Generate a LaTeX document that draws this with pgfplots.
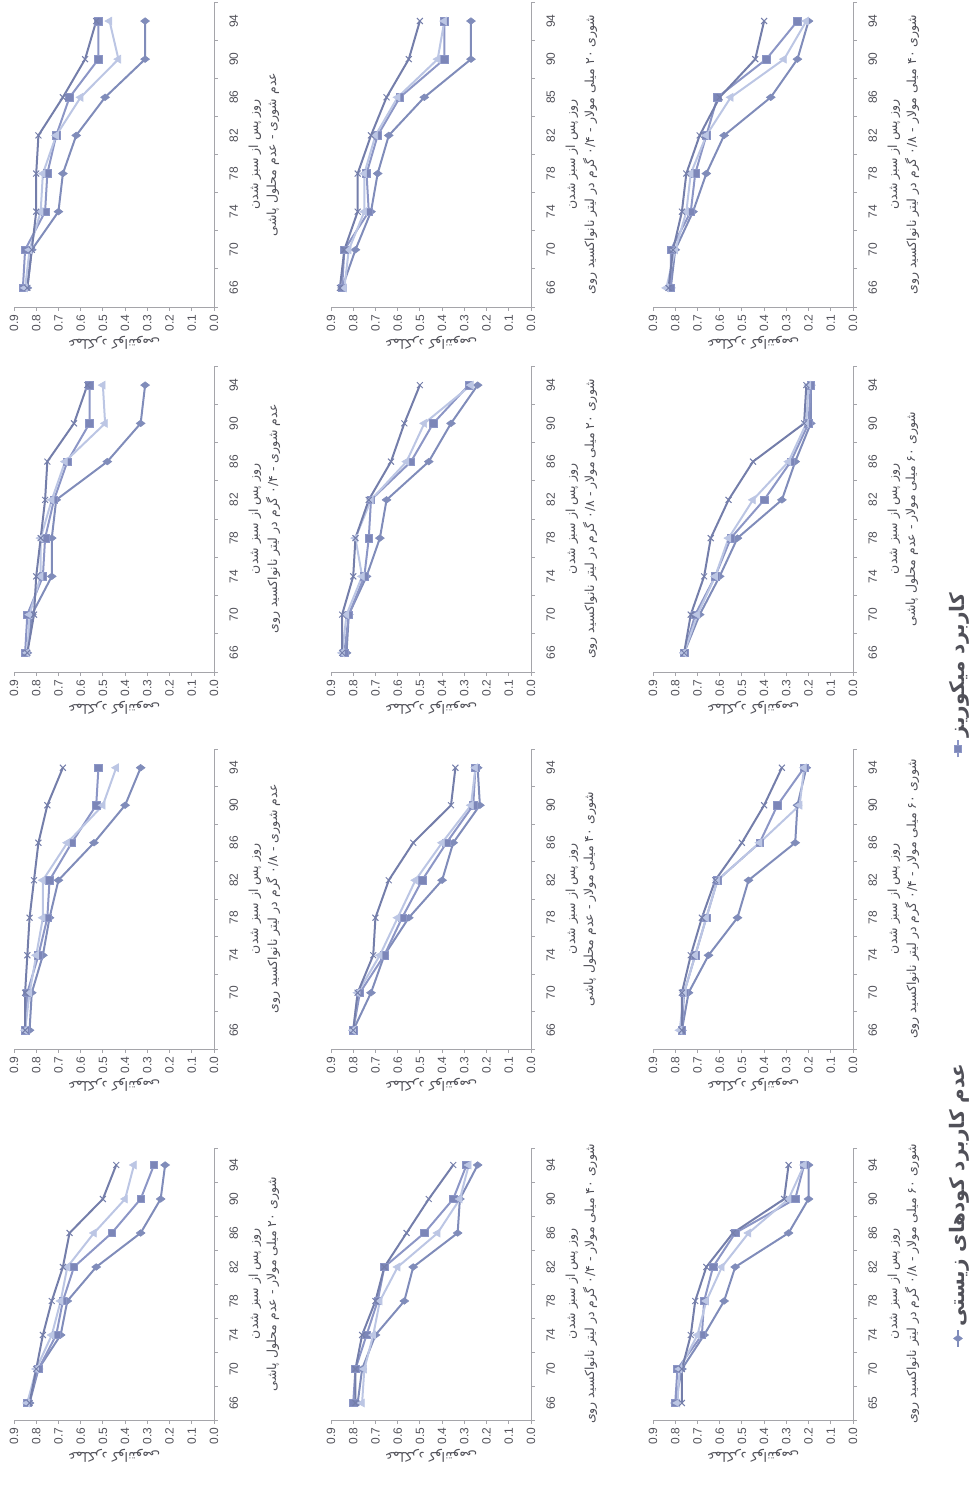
\documentclass[border=0pt]{standalone}
\usepackage{graphicx}
\usepackage{fontspec}
\usepackage{pgfplots}
\usepackage{pgfplotstable}
\pgfplotsset{compat=1.18}
\setmainfont{Liberation Sans}
\newfontfamily\arabicfont[Script=Arabic]{DejaVu Sans}
\TeXXeTstate=1
\newcommand{\fa}[1]{{\arabicfont\beginR #1\endR}}

\definecolor{cD}{RGB}{128,140,186}
\definecolor{cS}{RGB}{140,150,198}
\definecolor{cSf}{RGB}{124,134,184}
\definecolor{cT}{RGB}{188,198,228}
\definecolor{cX}{RGB}{116,126,170}
\definecolor{axgray}{RGB}{165,165,170}
\definecolor{tickgray}{RGB}{80,80,88}

\tikzset{
 sD/.style={color=cD, line width=2pt, mark=diamond*, mark size=4.4pt, mark options={fill=cD, line width=0.6pt}},
 sS/.style={color=cS, line width=2pt, mark=square*, mark size=3.8pt, mark options={fill=cSf, draw=cS, line width=0.6pt}},
 sT/.style={color=cT, line width=2pt, mark=triangle*, mark size=4.6pt, mark options={fill=cT, line width=0.6pt}},
 sX/.style={color=cX, line width=2pt, mark=x, mark size=4.2pt, mark options={line width=1pt}},
 lbl/.style={font=\fontsize{12.5}{14}\selectfont, text=tickgray},
 ttl/.style={font=\fontsize{12.5}{14}\selectfont, text=tickgray},
}

\pgfplotsset{panelstyle/.style={
 anchor=south west, scale only axis, height=200pt,
 xmin=-0.5, xmax=7.5, ymin=0, ymax=0.9,
 axis lines*=left, clip=false,
 xtick={-0.5,0.5,1.5,2.5,3.5,4.5,5.5,6.5,7.5}, xticklabels={,,,,,,,,},
 extra x ticks={0,1,2,3,4,5,6,7},
 extra x tick style={major tick length=0pt},
 xticklabel style={yshift=-12pt},
 ytick={0,0.1,0.2,0.3,0.4,0.5,0.6,0.7,0.8,0.9},
 tick align=outside, major tick length=4pt,
 axis line style={draw=axgray, line width=0.8pt},
 tick style={draw=axgray, line width=0.8pt},
 yticklabel style={/pgf/number format/.cd, fixed, fixed zerofill, precision=1},
 /pgf/number format/assume math mode=true,
 ticklabel style={font=\fontsize{12}{14}\selectfont, text=tickgray},
 ylabel={\fa{عملکرد کوانتومی}},
 ylabel style={font=\fontsize{13}{15}\selectfont, text=tickgray, yshift=-2pt},
}}

% #1 left, #2 bottom, #3 table, #4 title, #5 tick labels, #6 width, #7 extra options
\newcommand{\panel}[7]{%
\begin{axis}[panelstyle, at={(#1pt,#2pt)}, width=#6pt, extra x tick labels={#5}, #7]
\addplot[sD] table[x=i,y=D]{#3};
\addplot[sS] table[x=i,y=S]{#3};
\addplot[sT] table[x=i,y=T]{#3};
\addplot[sX] table[x=i,y=X]{#3};
\node[lbl] at (rel axis cs:0.5,0) [yshift=-41pt] {\fa{روز پس از سبز شدن}};
\node[ttl] at (rel axis cs:0.5,0) [yshift=-59pt] {#4};
\end{axis}}

% columns: i = day index (66,70,...,94); D = no biofertilizer (diamond), S = mycorrhiza (square), T = triangle series, X = cross series
\pgfplotstableread{
i D S T X
0 0.84 0.86 0.85 0.84
1 0.82 0.85 0.83 0.82
2 0.70 0.76 0.78 0.80
3 0.68 0.75 0.77 0.80
4 0.62 0.71 0.71 0.79
5 0.49 0.65 0.60 0.68
6 0.31 0.52 0.43 0.58
7 0.31 0.52 0.47 0.53
}\tA
\pgfplotstableread{
i D S T X
0 0.84 0.85 0.84 0.84
1 0.82 0.84 0.83 0.81
2 0.73 0.77 0.78 0.80
3 0.73 0.76 0.78 0.78
4 0.71 0.72 0.73 0.76
5 0.48 0.66 0.67 0.75
6 0.33 0.56 0.49 0.63
7 0.31 0.56 0.50 0.57
}\tB
\pgfplotstableread{
i D S T X
0 0.83 0.85 0.85 0.85
1 0.82 0.84 0.83 0.85
2 0.77 0.79 0.80 0.84
3 0.74 0.75 0.77 0.83
4 0.70 0.74 0.77 0.81
5 0.54 0.64 0.66 0.79
6 0.40 0.53 0.50 0.75
7 0.33 0.52 0.44 0.68
}\tC
\pgfplotstableread{
i D S T X
0 0.83 0.84 0.84 0.83
1 0.79 0.79 0.80 0.80
2 0.69 0.71 0.73 0.77
3 0.66 0.68 0.69 0.73
4 0.53 0.63 0.66 0.68
5 0.33 0.46 0.54 0.65
6 0.24 0.33 0.40 0.50
7 0.22 0.27 0.36 0.44
}\tD
\pgfplotstableread{
i D S T X
0 0.85 0.85 0.84 0.86
1 0.79 0.84 0.82 0.84
2 0.72 0.73 0.75 0.78
3 0.69 0.74 0.75 0.78
4 0.64 0.69 0.70 0.72
5 0.48 0.59 0.60 0.65
6 0.27 0.39 0.42 0.55
7 0.27 0.39 0.39 0.50
}\tE
\pgfplotstableread{
i D S T X
0 0.83 0.84 0.85 0.85
1 0.82 0.82 0.83 0.85
2 0.74 0.75 0.76 0.80
3 0.68 0.73 0.79 0.79
4 0.65 0.72 0.72 0.73
5 0.46 0.54 0.56 0.63
6 0.36 0.44 0.48 0.57
7 0.24 0.28 0.27 0.50
}\tF
\pgfplotstableread{
i D S T X
0 0.80 0.80 0.80 0.80
1 0.72 0.77 0.78 0.78
2 0.66 0.66 0.68 0.71
3 0.55 0.58 0.60 0.70
4 0.40 0.49 0.52 0.64
5 0.35 0.38 0.40 0.53
6 0.23 0.26 0.27 0.36
7 0.24 0.25 0.25 0.34
}\tG
\pgfplotstableread{
i D S T X
0 0.78 0.80 0.76 0.79
1 0.76 0.79 0.75 0.79
2 0.70 0.74 0.71 0.76
3 0.57 0.69 0.68 0.70
4 0.53 0.66 0.60 0.66
5 0.33 0.48 0.42 0.56
6 0.32 0.35 0.32 0.46
7 0.24 0.29 0.28 0.35
}\tH
\pgfplotstableread{
i D S T X
0 0.82 0.82 0.84 0.83
1 0.80 0.82 0.80 0.81
2 0.72 0.73 0.75 0.77
3 0.66 0.71 0.73 0.75
4 0.58 0.66 0.66 0.69
5 0.37 0.61 0.55 0.60
6 0.25 0.39 0.31 0.44
7 0.20 0.25 0.21 0.40
}\tI
\pgfplotstableread{
i D S T X
0 0.76 0.76 0.76 0.76
1 0.69 0.71 0.70 0.73
2 0.60 0.62 0.62 0.67
3 0.52 0.55 0.56 0.64
4 0.32 0.40 0.45 0.56
5 0.26 0.28 0.29 0.45
6 0.19 0.20 0.21 0.22
7 0.19 0.19 0.20 0.21
}\tJ
\pgfplotstableread{
i D S T X
0 0.77 0.77 0.78 0.77
1 0.74 0.76 0.76 0.77
2 0.65 0.71 0.71 0.73
3 0.52 0.66 0.66 0.68
4 0.47 0.61 0.61 0.62
5 0.26 0.42 0.42 0.50
6 0.25 0.34 0.24 0.40
7 0.21 0.22 0.22 0.32
}\tK
\pgfplotstableread{
i D S T X
0 0.80 0.80 0.79 0.77
1 0.77 0.79 0.78 0.77
2 0.67 0.68 0.70 0.73
3 0.58 0.67 0.66 0.71
4 0.53 0.63 0.59 0.66
5 0.29 0.53 0.47 0.54
6 0.20 0.26 0.29 0.31
7 0.20 0.22 0.22 0.29
}\tL

\begin{document}
\rotatebox{90}{%
\begin{tikzpicture}
\useasboundingbox (0pt,0pt) rectangle (1491pt,972pt);
% row 1
\panel{1184}{758}{\tA}{\fa{عدم شوری - عدم محلول پاشی}}{66,70,74,78,82,86,90,94}{305}{}
\panel{819}{758}{\tB}{\fa{عدم شوری - ۰/۴ گرم در لیتر نانواکسید روی}}{66,70,74,78,82,86,90,94}{306}{}
\panel{442}{758}{\tC}{\fa{عدم شوری - ۰/۸ گرم در لیتر نانواکسید روی}}{66,70,74,78,82,86,90,94}{300}{}
\panel{71}{758}{\tD}{\fa{شوری ۲۰ میلی مولار - عدم محلول پاشی}}{66,70,74,78,82,86,90,94}{272}{}
% row 2
\panel{1184}{441}{\tE}{\fa{شوری ۲۰ میلی مولار - ۰/۴ گرم در لیتر نانواکسید روی}}{66,70,74,78,82,85,90,94}{305}{}
\panel{819}{441}{\tF}{\fa{شوری ۲۰ میلی مولار - ۰/۸ گرم در لیتر نانواکسید روی}}{66,70,74,78,82,86,90,94}{306}{}
\panel{442}{441}{\tG}{\fa{شوری ۴۰ میلی مولار - عدم محلول پاشی}}{66,70,74,78,82,86,90,94}{300}{}
\panel{71}{441}{\tH}{\fa{شوری ۴۰ میلی مولار - ۰/۴ گرم در لیتر نانواکسید روی}}{66,70,74,78,82,86,90,94}{272}{}
% row 3
\panel{1184}{119}{\tI}{\fa{شوری ۴۰ میلی مولار - ۰/۸ گرم در لیتر نانواکسید روی}}{66,70,74,78,82,86,90,94}{305}{}
\panel{819}{119}{\tJ}{\fa{شوری ۶۰ میلی مولار - عدم محلول پاشی}}{66,70,74,78,82,86,90,94}{306}{}
\panel{442}{119}{\tK}{\fa{شوری ۶۰ میلی مولار - ۰/۴ گرم در لیتر نانواکسید روی}}{66,70,74,78,82,86,90,94}{300}{}
\panel{71}{119}{\tL}{\fa{شوری ۶۰ میلی مولار - ۰/۸ گرم در لیتر نانواکسید روی}}{65,70,74,78,82,86,90,94}{272}{legend entries={\fa{عدم کاربرد کودهای زیستی},\fa{کاربرد میکوریز}}, legend columns=2, legend style={draw=none, fill=none, at={(rel axis cs:0.253,-0.525)}, anchor=west, font=\fontsize{20}{22}\selectfont\bfseries, text=tickgray, /tikz/every even column/.append style={column sep=303pt}}}
\end{tikzpicture}}
\end{document}
